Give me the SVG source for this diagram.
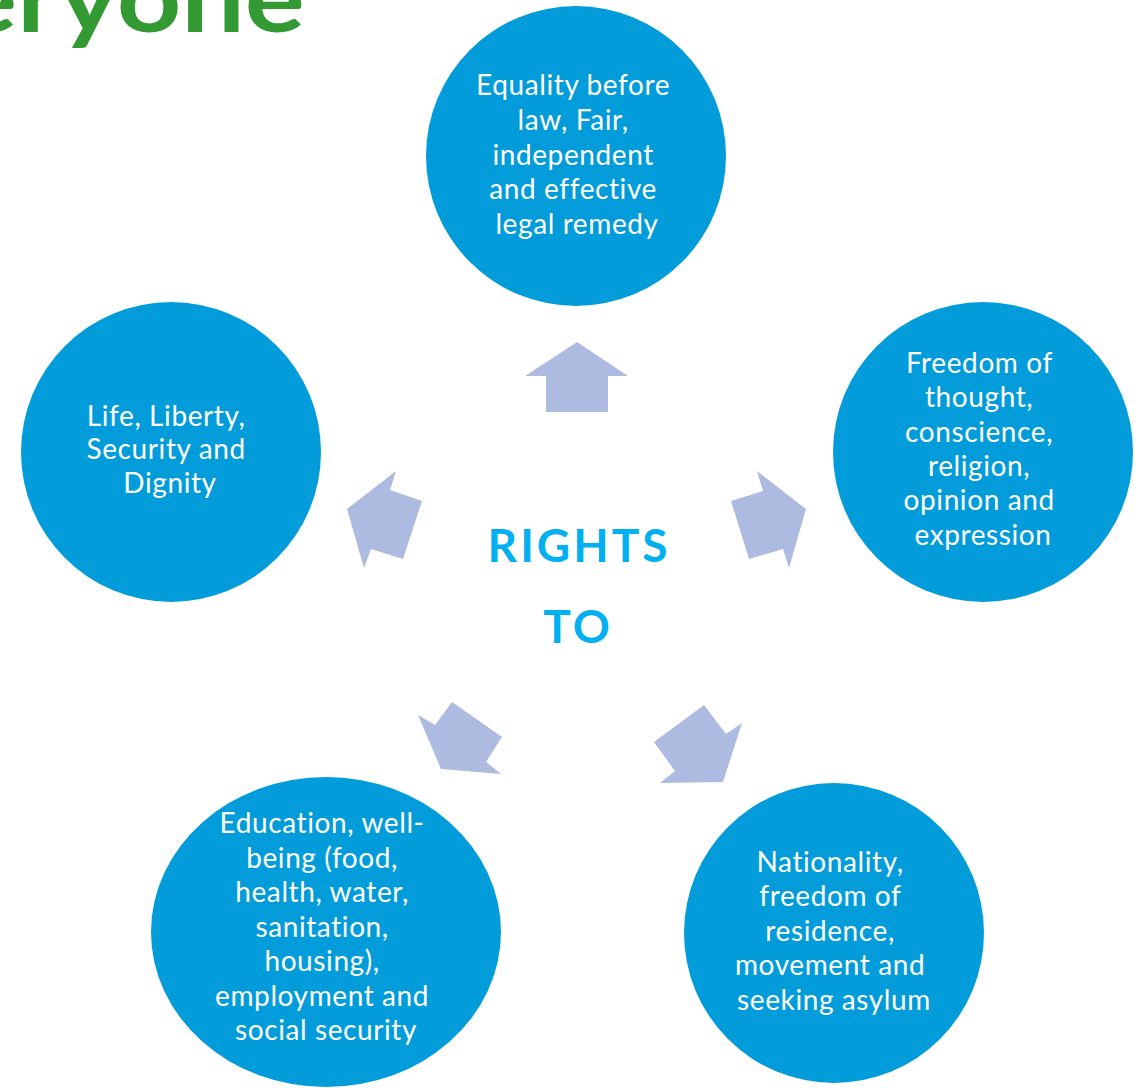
<svg xmlns="http://www.w3.org/2000/svg" width="1142" height="1088" viewBox="0 0 1142 1088">
  <style>
    .bubble { fill: #029cdb; }
    .label { fill: #ffffff; font-family: Lato, "Liberation Sans", sans-serif; font-size: 28px; letter-spacing: 0.6px; text-anchor: middle; font-variant-ligatures: none; }
    .arrow { fill: #adbbe0; }
    .hub { fill: #00b0f0; font-family: Lato, "Liberation Sans", sans-serif; font-weight: bold; font-size: 46px; letter-spacing: 3px; text-anchor: middle; }
    .title { fill: #339933; font-family: Lato, "Liberation Sans", sans-serif; font-weight: bold; font-size: 96px; }
  </style>
  <rect width="1142" height="1088" fill="#ffffff"/>

  <!-- heading, running off the top-left edge -->
  <text class="title" x="305" y="32" text-anchor="end" textLength="348" lengthAdjust="spacingAndGlyphs">eryone</text>

  <!-- centre caption -->
  <g id="hub">
    <text class="hub" x="579" y="562">RIGHTS</text>
    <text class="hub" x="578" y="643">TO</text>
  </g>

  <!-- block arrows pointing out to each circle -->
  <g id="connectors">
    <polygon class="arrow" points="577,342 628,376 608,376 608,412 546,412 546,376 525,376"/>
    <polygon class="arrow" points="806,509 789,568 783,549 749,559 731,501 763,491 757,471"/>
    <polygon class="arrow" points="723,782 660,783 675,771 654,742 704,705 726,734 742,723"/>
    <polygon class="arrow" points="441,769 501,774 486,762 502,737 452,702 435,725 418,715"/>
    <polygon class="arrow" points="347,509 364,568 371,549 403,559 422,501 390,490 396,471"/>
  </g>

  <g id="node-law">
    <circle class="bubble" cx="576" cy="156" r="150"/>
    <text class="label">
      <tspan x="577" y="95">Equality before</tspan>
      <tspan x="577" y="130">law, Fair,</tspan>
      <tspan x="577" y="165">independent</tspan>
      <tspan x="577" y="199">and effective</tspan>
      <tspan x="577" y="234">legal remedy</tspan>
    </text>
  </g>

  <g id="node-freedom">
    <circle class="bubble" cx="983" cy="452" r="150"/>
    <text class="label">
      <tspan x="983" y="373">Freedom of</tspan>
      <tspan x="983" y="407">thought,</tspan>
      <tspan x="983" y="442">conscience,</tspan>
      <tspan x="983" y="476">religion,</tspan>
      <tspan x="983" y="510">opinion and</tspan>
      <tspan x="983" y="545">expression</tspan>
    </text>
  </g>

  <g id="node-nationality">
    <circle class="bubble" cx="834" cy="933" r="150"/>
    <text class="label">
      <tspan x="834" y="872">Nationality,</tspan>
      <tspan x="834" y="906">freedom of</tspan>
      <tspan x="834" y="941">residence,</tspan>
      <tspan x="834" y="975">movement and</tspan>
      <tspan x="834" y="1010">seeking asylum</tspan>
    </text>
  </g>

  <g id="node-wellbeing">
    <ellipse class="bubble" cx="326" cy="932" rx="175" ry="155"/>
    <text class="label">
      <tspan x="326" y="833">Education, well-</tspan>
      <tspan x="326" y="868">being (food,</tspan>
      <tspan x="326" y="902">health, water,</tspan>
      <tspan x="326" y="937">sanitation,</tspan>
      <tspan x="326" y="971">housing),</tspan>
      <tspan x="326" y="1006">employment and</tspan>
      <tspan x="326" y="1040">social security</tspan>
    </text>
  </g>

  <g id="node-life">
    <circle class="bubble" cx="171" cy="452" r="150"/>
    <text class="label">
      <tspan x="170" y="426">Life, Liberty,</tspan>
      <tspan x="170" y="459">Security and</tspan>
      <tspan x="170" y="493">Dignity</tspan>
    </text>
  </g>
</svg>
